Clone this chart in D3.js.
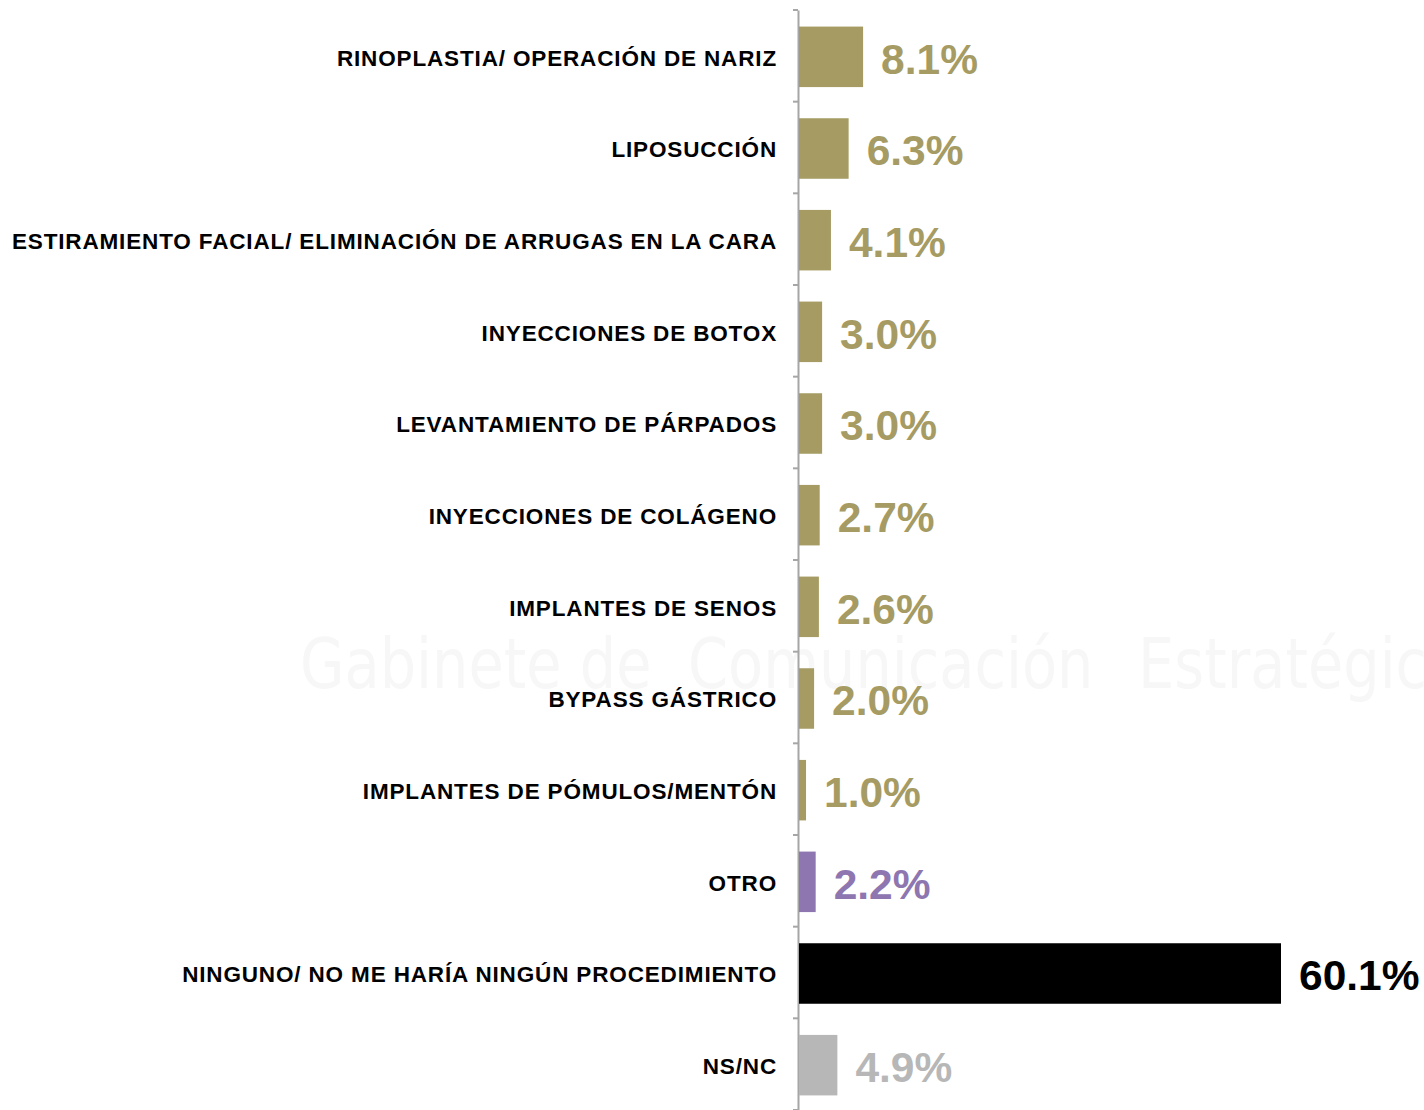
<!DOCTYPE html>
<html><head><meta charset="utf-8">
<script src="https://cdn.jsdelivr.net/npm/d3@7"></script>
<style>body{margin:0;background:#fff;}svg{display:block;}</style>
</head><body>
<svg id="c" width="1424" height="1110"></svg>
<script>
const categories = [
  "RINOPLASTIA/ OPERACIÓN DE NARIZ",
  "LIPOSUCCIÓN",
  "ESTIRAMIENTO FACIAL/ ELIMINACIÓN DE ARRUGAS EN LA CARA",
  "INYECCIONES DE BOTOX",
  "LEVANTAMIENTO DE PÁRPADOS",
  "INYECCIONES DE COLÁGENO",
  "IMPLANTES DE SENOS",
  "BYPASS GÁSTRICO",
  "IMPLANTES DE PÓMULOS/MENTÓN",
  "OTRO",
  "NINGUNO/ NO ME HARÍA NINGÚN PROCEDIMIENTO",
  "NS/NC"
];
const values = [8.1, 6.3, 4.1, 3.0, 3.0, 2.7, 2.6, 2.0, 1.0, 2.2, 60.1, 4.9];
const groups = ["proc","proc","proc","proc","proc","proc","proc","proc","proc","otro","ninguno","nsnc"];
const groupColors = {proc:"#A59B63", otro:"#8E76B0", ninguno:"#000000", nsnc:"#B7B7B7"};
const watermarkWords = ["Gabinete de", "Comunicación", "Estratégica"];

const svg = d3.select("#c");
const x0 = 798;
const x = d3.scaleLinear().domain([0, 60.1]).range([x0, 1281]);
const y = d3.scaleBand().domain(categories).range([10, 1110]).paddingInner(0.34).paddingOuter(0.17);

// faint watermark
const wm = svg.append("g").attr("fill", "#f7f7f7")
  .attr("font-family", "DejaVu Sans, sans-serif").attr("font-size", 70);
const wmX = [300, 688, 1138];
wm.selectAll("text").data(watermarkWords).enter().append("text")
  .attr("transform", (d, i) => `translate(${wmX[i]},688) scale(0.82,1)`)
  .text(d => d);

// axis
const axis = d3.axisLeft(y).tickSize(0).tickFormat("");
const g = svg.append("g").attr("transform", `translate(${x0},0)`).call(axis);
g.select(".domain").attr("stroke", "#a6a6a6").attr("stroke-width", 2);
const bounds = d3.range(categories.length + 1).map(i => 10 + i * (1100 / categories.length));
g.selectAll(".btick").data(bounds).enter().append("line")
  .attr("x1", -5).attr("x2", 0).attr("y1", d => d).attr("y2", d => d)
  .attr("stroke", "#a6a6a6").attr("stroke-width", 2);

// bars
svg.selectAll(".bar").data(categories).enter().append("rect")
  .attr("x", x0 + 1)
  .attr("y", d => y(d) + 1)
  .attr("width", (d, i) => x(values[i]) - x0 - 1)
  .attr("height", y.bandwidth())
  .attr("fill", (d, i) => groupColors[groups[i]]);

// category labels
svg.selectAll(".lab").data(categories).enter().append("text")
  .attr("x", 777)
  .attr("y", d => y(d) + y.bandwidth() / 2 + 2)
  .attr("dy", "0.35em")
  .attr("text-anchor", "end")
  .attr("font-family", "Liberation Sans, Arial, sans-serif")
  .attr("font-weight", "bold").attr("font-size", 22.5)
  .attr("letter-spacing", 0.85)
  .attr("fill", "#000").text(d => d);

// value labels
svg.selectAll(".val").data(categories).enter().append("text")
  .attr("x", (d, i) => x(values[i]) + 18)
  .attr("y", d => y(d) + y.bandwidth() / 2 + 3)
  .attr("dy", "0.35em")
  .attr("font-family", "Liberation Sans, Arial, sans-serif")
  .attr("font-weight", "bold").attr("font-size", 42.5)
  .attr("fill", (d, i) => groupColors[groups[i]])
  .text((d, i) => values[i].toFixed(1) + "%");
</script>
</body></html>
